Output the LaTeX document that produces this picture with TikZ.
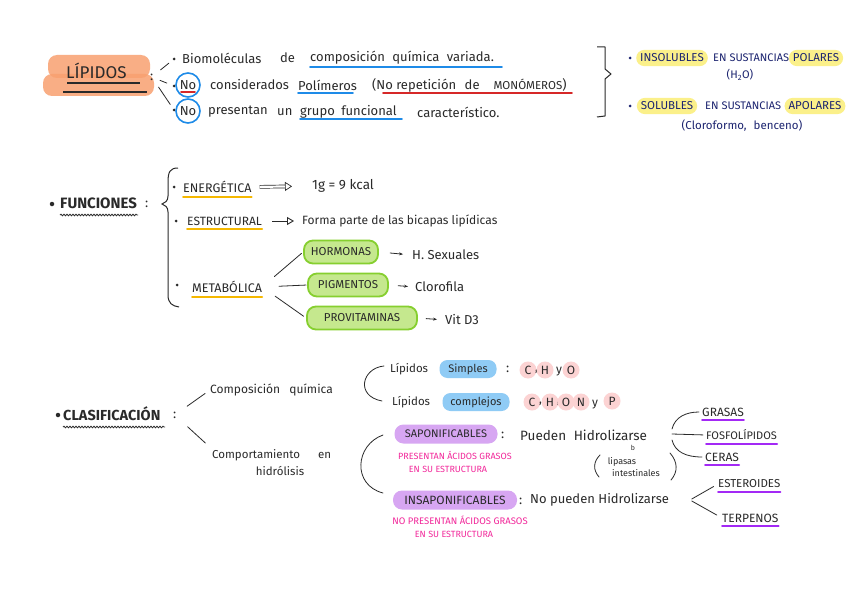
\documentclass[tikz,border=0pt]{standalone}
\usepackage{fontspec}
\setmainfont{Fira Sans}
\usetikzlibrary{arrows.meta,decorations.pathmorphing}
\definecolor{ink}{HTML}{2A2A2A}
\definecolor{navy}{HTML}{1C2470}
\definecolor{orangeL}{HTML}{F8A070}
\definecolor{blueU}{HTML}{1E8BE8}
\definecolor{redU}{HTML}{D62828}
\definecolor{yelU}{HTML}{F5B800}
\definecolor{yelL}{HTML}{FBF08A}
\definecolor{greenL}{HTML}{C5E88E}
\definecolor{greenB}{HTML}{86CF2F}
\definecolor{blueL}{HTML}{8FCBF5}
\definecolor{pinkL}{HTML}{FCD3D3}
\definecolor{purpL}{HTML}{D7A6F2}
\definecolor{purpU}{HTML}{A329F5}
\definecolor{magT}{HTML}{F2279A}
\begin{document}
\begin{tikzpicture}[x=1pt,y=-1pt,
  fs/.style={font=\fontsize{#1}{#1}\selectfont},
  fsb/.style={font=\fontsize{#1}{#1}\selectfont\bfseries},
  txt/.style={inner sep=0pt, anchor=west, text=ink, fs=13},
  dot/.style={circle, fill=ink, inner sep=0pt, minimum size=3pt},
  link/.style={draw=ink, line width=0.8pt, line cap=round},
  ul/.style={line width=1.8pt, line cap=round},
  hl/.style={fill=yelL, rounded corners=8pt, inner xsep=4pt, inner ysep=4pt, text=navy, fs=11.5},
  gb/.style={draw=greenB, fill=greenL, line width=1.8pt, rounded corners=9pt, inner xsep=5pt, minimum height=23pt, text=ink, fs=11.5},
  bb/.style={fill=blueL, rounded corners=8pt, inner xsep=5pt, minimum height=18pt, text=ink, fs=11},
  pb/.style={fill=purpL, rounded corners=9pt, inner xsep=4pt, minimum height=19pt, text=ink},
  pc/.style={circle, fill=pinkL, inner sep=0pt, minimum size=17pt, text=ink, fs=12},
  pinkt/.style={inner sep=0pt, text=magT, fs=9},
  wavy/.style={draw=ink, line width=0.8pt, decorate, decoration={snake, amplitude=0.8pt, segment length=3pt}}
]
\useasboundingbox[fill=white] (0,0) rectangle (848,599);

% ---------- LIPIDOS ----------
\fill[orangeL, fill opacity=0.85, rounded corners=9pt] (48,55) rectangle (150,78);
\fill[orangeL, fill opacity=0.85, rounded corners=9pt] (43,74) rectangle (154,96);
\node[txt, fs=17] (lip) at (66,71) {LÍPIDOS};
\draw[ink, line width=1.2pt] (67,83) -- (140,83);
\draw[ink, line width=1.2pt] (63,92) -- (147,92);
\node[txt] (lipc) at (150,77) {:};

\node[dot] (d1) at (174,59) {};
\node[dot] (d2) at (174,86) {};
\node[dot] (d3) at (174,110) {};
\draw[link, shorten <=9pt, shorten >=5pt] (lipc) -- (d1);
\draw[link, shorten <=7pt, shorten >=6pt] (lipc) -- (d2);
\draw[link, shorten <=9pt, shorten >=5pt] (lipc) -- (d3);

\node[txt] (t1a) at (182,58) {Biomoléculas};
\node[txt] (t1b) at (280,58) {de};
\node[txt] (t1c) at (310,58) {composición\hspace{4pt} química\hspace{4pt} variada.};
\draw[ul, blueU] (310,67) -- (502,67);

\node[circle, draw=blueU, line width=1.6pt, minimum size=24pt, inner sep=0pt, text=ink, fs=13] (no1) at (188,85) {No};
\draw[ul, redU] (181,92) -- (195,92);
\node[txt] (t2a) at (210,85) {considerados};
\node[txt] (t2b) at (298,85) {Polímeros};
\draw[ul, blueU] (298,93) -- (353,93);
\node[txt] (t2c) at (372,85) {(No repetición\hspace{5pt} de\hspace{14pt}{\fontsize{11.5}{10}\selectfont MONÓMEROS})};
\draw[ul, redU] (383,93) -- (572,93);

\node[circle, draw=blueU, line width=1.6pt, minimum size=24pt, inner sep=0pt, text=ink, fs=13] (no2) at (188,111) {No};
\node[txt] (t3a) at (208,112) {presentan};
\node[txt] (t3b) at (277,112) {un};
\node[txt] (t3c) at (300,112) {grupo\hspace{3pt} funcional};
\draw[ul, blueU] (300,119) -- (402,119);
\node[txt] (t3d) at (417,112) {característico.};

% right bracket
\draw[ink, line width=1pt, line join=round] (597,47) -- (605,47) -- (605,69) -- (611,74) -- (605,79) -- (605,116) -- (597,117);

\node[dot, fill=navy] (r1) at (630,58) {};
\node[hl] (ins) at (672,58) {INSOLUBLES};
\node[txt, text=navy, fs=11] (r1b) at (713,58) {EN SUSTANCIAS};
\node[hl] (pol) at (816,58) {POLARES};
\node[inner sep=0pt, text=navy, fs=11] (h2o) at (740,75) {(H\textsubscript{2}O)};

\node[dot, fill=navy] (r2) at (630,106) {};
\node[hl] (sol) at (667,106) {SOLUBLES};
\node[txt, text=navy, fs=11] (r2b) at (705,106) {EN SUSTANCIAS};
\node[hl] (apol) at (815,106) {APOLARES};
\node[inner sep=0pt, text=navy, fs=11.5] (clo) at (742,126) {(Cloroformo,\hspace{4pt} benceno)};

% ---------- FUNCIONES ----------
\node[dot, minimum size=4.5pt] (fd) at (52,204) {};
\node[txt, fsb=15] (fun) at (60,203) {FUNCIONES};
\draw[wavy] (60,215) -- (138,215);
\node[txt] (func) at (145,204) {:};
\draw[ink, line width=1pt] (178,168) .. controls (170,168) and (168,172) .. (168,182) -- (168,196)
  .. controls (168,201) and (165,203) .. (162,204) .. controls (165,205) and (168,207) .. (168,212)
  -- (168,295) .. controls (168,303) and (172,306) .. (179,307);

\node[dot] (fe) at (174,187) {};
\node[txt, fs=12.5] (ene) at (183,187) {ENERGÉTICA};
\draw[ul, yelU] ([yshift=-4pt]ene.base west) -- ([yshift=-4pt]ene.base east);
\node[txt, fs=13.5] (kcal) at (312,186) {1g = 9 kcal};
\draw[ink, double, double distance=2.2pt, line width=0.7pt, shorten <=8pt, shorten >=20pt, -{Triangle[open, length=7pt, width=9pt]}] (ene.east) -- (kcal.west);

\node[dot] (fs2) at (176,221) {};
\node[txt, fs=12] (est) at (187,221) {ESTRUCTURAL};
\draw[ul, yelU] ([yshift=-4pt]est.base west) -- ([yshift=-4pt]est.base east);
\node[txt, fs=12] (forma) at (302,221) {Forma parte de las bicapas lipídicas};
\draw[ink, line width=0.9pt, shorten <=10pt, shorten >=8pt, -{Triangle[open, length=7pt, width=8pt]}] (est.east) -- (forma.west);

\node[dot] (fm) at (177,285) {};
\node[txt, fs=12.5] (met) at (192,287) {METABÓLICA};
\draw[ul, yelU] ([yshift=-4pt]met.base west) -- ([yshift=-4pt]met.base east);

\node[gb, minimum width=74pt] (hor) at (341,252) {HORMONAS};
\node[gb, minimum width=80pt] (pig) at (348,285) {PIGMENTOS};
\node[gb, minimum width=110pt] (pro) at (362,318) {PROVITAMINAS};
\draw[link, shorten <=16pt, shorten >=2pt] (met.east) -- (hor.west);
\draw[link, shorten <=17pt, shorten >=1pt] (met.east) -- (pig.west);
\draw[link, shorten <=16pt, shorten >=3pt] (met.east) -- (pro.west);

\node[txt] (sex) at (412,255) {H. Sexuales};
\node[txt] (clf) at (415,287) {Clorofila};
\node[txt] (vit) at (445,320) {Vit D3};
\draw[ink, line width=0.8pt, -{Stealth[length=4pt]}, shorten <=11pt, shorten >=9pt] (hor.east) -- (sex.west);
\draw[ink, line width=0.8pt, -{Stealth[length=4pt]}, shorten <=9pt, shorten >=7pt] (pig.east) -- (clf.west);
\draw[ink, line width=0.8pt, -{Stealth[length=4pt]}, shorten <=8pt, shorten >=8pt] (pro.east) -- (vit.west);

% ---------- CLASIFICACION ----------
\node[dot, minimum size=4.5pt] (cd) at (58,415) {};
\node[txt, fsb=14.5] (cla) at (63,414) {CLASIFICACIÓN};
\draw[wavy] (63,427) -- (165,427);
\node[txt] (clac) at (173,415) {:};

\node[txt, fs=12] (comp) at (210,390) {Composición\hspace{6pt} química};
\node[txt, fs=11.5] (compor) at (212,455) {Comportamiento};
\node[txt, fs=11.5] (en) at (318,455) {en};
\node[inner sep=0pt, text=ink, fs=11.5] (hid) at (280,471) {hidrólisis};
\draw[link, shorten <=13pt, shorten >=6pt] (clac) -- (comp.west);
\draw[link, shorten <=15pt, shorten >=9pt] (clac) -- (compor.north west);

\draw[link] (384,366) .. controls (362,368) and (355,396) .. (382,401);

\node[txt, fs=11.5] (ls1) at (390,369) {Lípidos};
\node[bb, minimum width=57pt] (sim) at (468,369) {Simples};
\node[txt] (scol) at (506,369) {:};
\node[pc] (c1) at (528,370) {C};
\node[txt, fs=12] (cm1) at (535,372) {,};
\node[pc] (h1) at (545,370) {H};
\node[txt, fs=12] (y1) at (556,372) {y};
\node[pc] (o1) at (571,370) {O};

\node[txt, fs=11.5] (ls2) at (392,402) {Lípidos};
\node[bb, minimum width=67pt] (cpj) at (476,402) {complejos};
\node[pc] (c2) at (532,402) {C};
\node[txt, fs=12] (cm2) at (539,404) {,};
\node[pc] (h2) at (550,402) {H};
\node[txt, fs=12] (cm3) at (557,404) {,};
\node[pc] (o2) at (566,402) {O};
\node[txt, fs=12] (cm4) at (573,404) {,};
\node[pc] (n2) at (581,402) {N};
\node[txt, fs=12] (y2) at (592,405) {y};
\node[pc] (p2) at (612,401) {P};

\draw[link] (383,435) .. controls (355,445) and (352,485) .. (383,493);

\node[pb, minimum width=103pt, fs=11] (sap) at (446,434) {SAPONIFICABLES};
\node[txt] (sapc) at (501,435) {:};
\node[txt, fs=13.5] (pue) at (520,435) {Pueden\hspace{4pt} Hidrolizarse};
\node[pinkt] (pt1) at (455,455) {PRESENTAN ÁCIDOS GRASOS};
\node[pinkt] (pt2) at (448,469) {EN SU ESTRUCTURA};
\node[inner sep=0pt, text=ink, fs=7] (bb1) at (633,448) {b};
\draw[link] (600,455) .. controls (593,462) and (593,470) .. (599,477);
\node[inner sep=0pt, text=ink, fs=9] (lipa) at (622,462) {lipasas};
\node[inner sep=0pt, text=ink, fs=9] (intes) at (636,473) {intestinales};
\draw[link] (670,453) .. controls (678,462) and (678,472) .. (671,480);

\node[pb, minimum width=124pt, fs=12] (insa) at (455,500) {INSAPONIFICABLES};
\node[txt] (insc) at (519,501) {:};
\node[txt, fs=13] (npue) at (530,500) {No pueden Hidrolizarse};
\node[pinkt, fs=9.5] (pt3) at (460,520) {NO PRESENTAN ÁCIDOS GRASOS};
\node[pinkt] (pt4) at (454,534) {EN SU ESTRUCTURA};

% right groups
\node[txt, fs=12] (gra) at (702,412) {GRASAS};
\node[txt, fs=11] (fos) at (706,435) {FOSFOLÍPIDOS};
\node[txt, fs=12] (cer) at (705,457) {CERAS};
\node[txt, fs=11.5] (este) at (718,484) {ESTEROIDES};
\node[txt, fs=12] (ter) at (722,518) {TERPENOS};
\foreach \n in {gra,fos,cer,este,ter}
  \draw[ul, purpU] ([yshift=-4pt]\n.base west) -- ([yshift=-4pt]\n.base east);

\coordinate (hz) at (672,434);
\draw[link, shorten >=3pt] (672,429) .. controls (675,417) and (686,412) .. (gra.west);
\draw[link, shorten >=3pt] (hz) -- (fos.west);
\draw[link, shorten >=3pt] (672,440) .. controls (675,452) and (686,457) .. (cer.west);

\coordinate (nz) at (690,500);
\draw[link, shorten <=2pt, shorten >=5pt] (nz) -- (este.west);
\draw[link, shorten <=2pt, shorten >=6pt] (nz) -- (ter.west);
\end{tikzpicture}
\end{document}
